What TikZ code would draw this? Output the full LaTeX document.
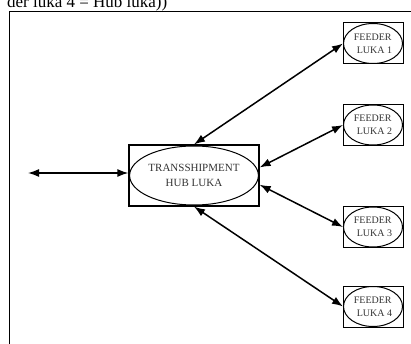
\documentclass[tikz,border=0pt]{standalone}
\usepackage{fontspec}
\setmainfont{Liberation Serif}
\usetikzlibrary{arrows.meta,positioning,shapes.geometric}

\tikzset{
  box/.style={draw,rectangle,line width=1.2pt,inner sep=0pt},
  oval/.style={draw,ellipse,line width=1pt,inner sep=0pt,text=black!80,align=left},
  feeder/.style={box,line width=1pt,minimum width=60pt,minimum height=41pt},
  feederoval/.style={oval,minimum width=59pt,minimum height=40pt,font=\fontsize{10}{13}\selectfont}
}

\begin{document}
\begin{tikzpicture}[x=1pt,y=-1pt,>={Latex[length=11pt,width=8pt]},line width=1.5pt]
            \useasboundingbox (0,0) rectangle (411,344);
            % frame and cut caption
            \draw[line width=0.8pt] (411,11) -- (9,11) -- (9,344);
            \node[anchor=base east,inner sep=0pt,font=\fontsize{17}{17}\selectfont] (title) at (168,7.5) {der luka 4 = Hub luka))};

            \node[box,minimum width=130pt,minimum height=61pt] (hub) at (194,175.5) {};
            \node[oval,align=center,minimum width=128pt,minimum height=59pt,font=\fontsize{11}{15}\selectfont] (hub_e) at (hub) {TRANSSHIPMENT\\HUB LUKA};

            \node[feeder] (f_1) at (373,43.5) {};
            \node[feederoval] (f_1e) at (f_1) {FEEDER\\\hspace*{3pt}LUKA 1};
            \node[feeder] (f_2) at (373,125) {};
            \node[feederoval] (f_2e) at (f_2) {FEEDER\\\hspace*{3pt}LUKA 2};
            \node[feeder] (f_3) at (373,227) {};
            \node[feederoval] (f_3e) at (f_3) {FEEDER\\\hspace*{3pt}LUKA 3};
            \node[feeder] (f_4) at (373,306.5) {};
            \node[feederoval] (f_4e) at (f_4) {FEEDER\\\hspace*{3pt}LUKA 4};

            \coordinate (ext) at (28,173);
            \path[<->,line width=1.5pt]
                (ext)
                    edge (ext -| hub.west)
                (hub.north)
                    edge (f_1e.west)
                (hub.7)
                    edge (f_2e.west)
                (hub.-8)
                    edge (f_3e.west)
                (hub.south)
                    edge (f_4e.west);
        \end{tikzpicture}
\end{document}
